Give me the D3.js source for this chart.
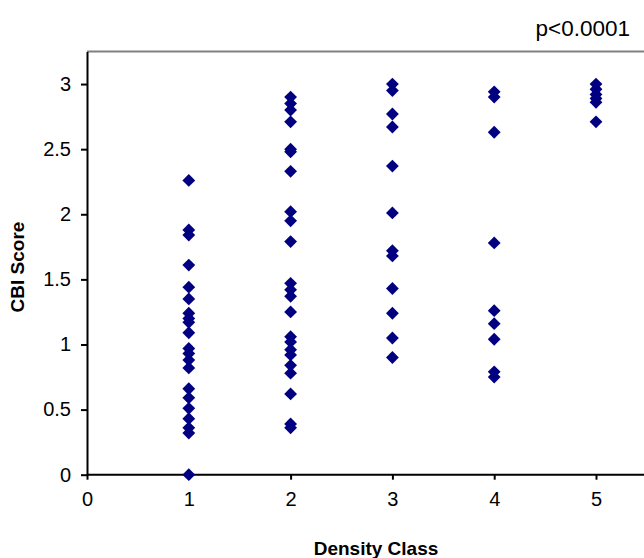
<!DOCTYPE html>
<html>
<head>
<meta charset="utf-8">
<script src="https://cdn.jsdelivr.net/npm/d3@7"></script>
<style>
  body { margin: 0; background: #fff; }
  svg { display: block; font-family: "Liberation Sans", Arial, sans-serif; }
  .axis text { font-size: 20px; fill: #000; }
  .axis path, .axis line { stroke: #000; stroke-width: 2; }
</style>
</head>
<body>
<div id="chart"></div>
<script>
// CBI score per sample, grouped by density class
const densityClasses = [1, 2, 3, 4, 5];
const scoresClass1 = [2.26, 1.88, 1.84, 1.61, 1.44, 1.35, 1.24, 1.2, 1.17, 1.09, 0.97, 0.93, 0.88, 0.82, 0.66, 0.59, 0.51, 0.43, 0.36, 0.32, 0];
const scoresClass2 = [2.9, 2.85, 2.8, 2.71, 2.5, 2.48, 2.33, 2.02, 1.95, 1.79, 1.47, 1.42, 1.37, 1.25, 1.06, 1.02, 0.96, 0.92, 0.84, 0.78, 0.62, 0.39, 0.36];
const scoresClass3 = [3.0, 2.95, 2.77, 2.67, 2.37, 2.01, 1.72, 1.68, 1.43, 1.24, 1.05, 0.9];
const scoresClass4 = [2.94, 2.9, 2.63, 1.78, 1.26, 1.16, 1.04, 0.79, 0.75];
const scoresClass5 = [3.0, 2.96, 2.92, 2.89, 2.86, 2.71];
const xTicks = [0, 1, 2, 3, 4, 5];
const yTicks = [0, 0.5, 1, 1.5, 2, 2.5, 3];

const allScores = [scoresClass1, scoresClass2, scoresClass3, scoresClass4, scoresClass5];
const points = [];
densityClasses.forEach((c, i) => {
    allScores[i].forEach(s => points.push({cls: c, score: s}));
});

const svgWidth = 644, svgHeight = 558;
const svg = d3.select("#chart").append("svg")
    .attr("width", svgWidth)
    .attr("height", svgHeight);

const margin = {top: 51.5, left: 87, bottom: 83.3};

// x runs past the right edge, the plot is cropped there
const x = d3.scaleLinear().domain([0, 6]).range([margin.left, margin.left + 6 * 101.8]);
const y = d3.scaleLinear().domain([0, 3.25]).range([svgHeight - margin.bottom, margin.top]);

// plot area top border (grey)
svg.append("line")
    .attr("x1", x(0)).attr("x2", svgWidth)
    .attr("y1", y(3.25)).attr("y2", y(3.25))
    .attr("stroke", "#808080")
    .attr("stroke-width", 2);

svg.append("g")
    .attr("class", "axis")
    .attr("transform", "translate(0," + y(0) + ")")
    .call(d3.axisBottom(x).tickValues(xTicks).tickSize(5).tickSizeOuter(0).tickPadding(12).tickFormat(d => d))
    .call(g => g.select(".domain").attr("d", "M" + x(0) + ",0H" + svgWidth));

svg.append("g")
    .attr("class", "axis")
    .attr("transform", "translate(" + x(0) + ",0)")
    .call(d3.axisLeft(y).tickValues(yTicks).tickSize(6).tickSizeOuter(0).tickPadding(10).tickFormat(d => d));

// markers
const diamond = d3.symbol().type(d3.symbolSquare).size(82);
svg.append("g")
    .selectAll("path")
    .data(points)
    .join("path")
    .attr("d", diamond)
    .attr("transform", d => "translate(" + x(d.cls) + "," + y(d.score) + ") rotate(45)")
    .attr("fill", "#000080");

// titles
svg.append("text")
    .attr("x", 376)
    .attr("y", 555)
    .attr("text-anchor", "middle")
    .attr("font-weight", "bold")
    .attr("font-size", 19)
    .text("Density Class");

svg.append("text")
    .attr("transform", "translate(24,267) rotate(-90)")
    .attr("text-anchor", "middle")
    .attr("font-weight", "bold")
    .attr("font-size", 19)
    .text("CBI Score");

svg.append("text")
    .attr("x", 630)
    .attr("y", 36)
    .attr("text-anchor", "end")
    .attr("font-size", 22.5)
    .text("p<0.0001");
</script>
</body>
</html>
